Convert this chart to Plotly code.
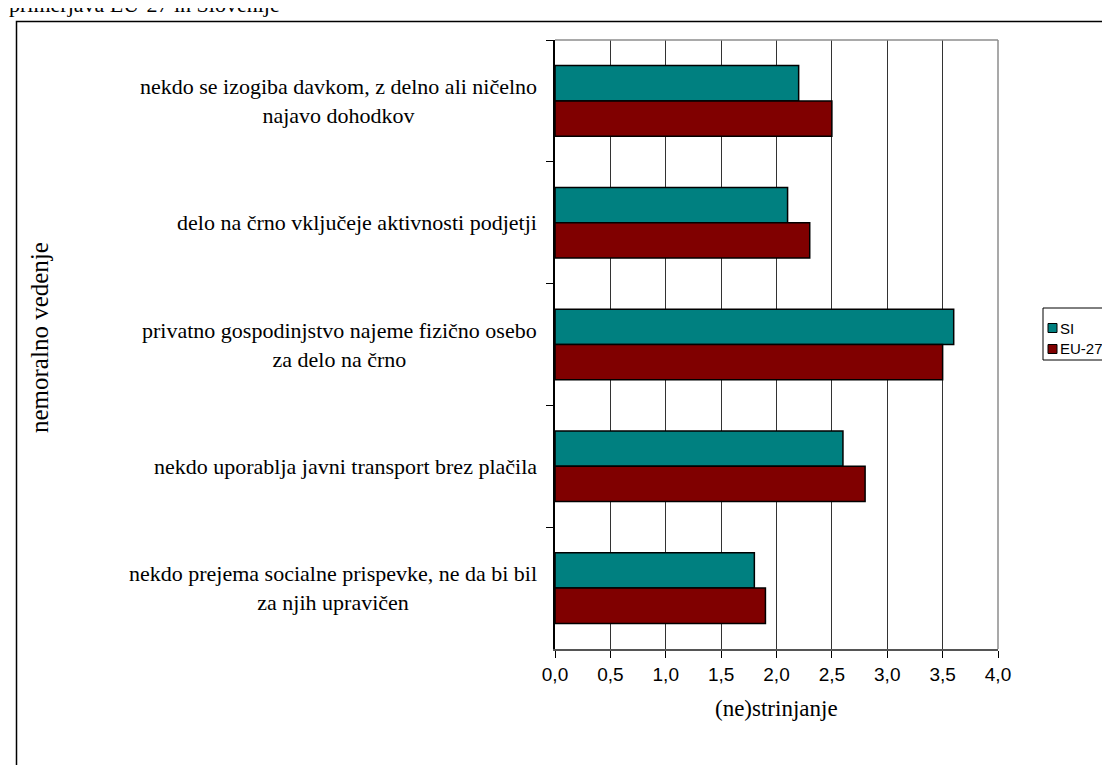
import plotly.graph_objects as go

categories = [
    "nekdo se izogiba davkom, z delno ali ničelno<br>najavo dohodkov",
    "delo na črno vključeje aktivnosti podjetji",
    "privatno gospodinjstvo najeme fizično osebo<br>za delo na črno",
    "nekdo uporablja javni transport brez plačila",
    "nekdo prejema socialne prispevke, ne da bi bil<br>za njih upravičen",
]
si_values = [2.2, 2.1, 3.6, 2.6, 1.8]
eu_values = [2.5, 2.3, 3.5, 2.8, 1.9]
series_names = ["SI", "EU-27"]
series_colors = ["#008080", "#800000"]
title_text = "primerjava EU-27 in Slovenije"
x_title = "(ne)strinjanje"
y_title = "nemoralno vedenje"

W, H = 1110, 765
L, R, T, B = 547, 120, 32, 124
PW, PH = W - L - R, H - T - B


def px_x(p):
    return (p - L) / PW


def px_y(p):
    return (H - B - p) / PH


SERIF = "Liberation Serif, Times New Roman, serif"
SANS = "Liberation Sans, Arial, sans-serif"

fig = go.Figure()
for name, vals, col in zip(series_names, [si_values, eu_values], series_colors):
    fig.add_trace(go.Bar(
        y=categories, x=vals, name=name, orientation="h",
        marker=dict(color=col, line=dict(color="black", width=1.5)),
        showlegend=False,
    ))

annotations = []
for c in categories:
    annotations.append(dict(
        x=px_x(531), xref="paper", y=c, yref="y", text=c, showarrow=False,
        xanchor="right", yanchor="middle", align="center",
        font=dict(family=SERIF, size=22, color="black"),
    ))
annotations.append(dict(
    x=px_x(31), xref="paper", y=px_y(330), yref="paper", text=y_title,
    textangle=-90, showarrow=False, xanchor="center", yanchor="middle",
    font=dict(family=SERIF, size=25, color="black"),
))
annotations.append(dict(
    x=px_x(768), xref="paper", y=px_y(700), yref="paper", text=x_title,
    showarrow=False, xanchor="center", yanchor="middle",
    font=dict(family=SERIF, size=23, color="black"),
))
annotations.append(dict(
    x=px_x(-1), xref="paper", y=px_y(-3), yref="paper", text=title_text,
    showarrow=False, xanchor="left", yanchor="middle",
    font=dict(family=SERIF, size=22, color="black"),
))

shapes = [
    # outer frame
    dict(type="rect", xref="paper", yref="paper",
         x0=px_x(8.5), x1=px_x(1200), y0=px_y(900), y1=px_y(13.5),
         line=dict(color="black", width=1.5), fillcolor="rgba(0,0,0,0)", layer="below"),
    # top and right plot border
    dict(type="line", xref="paper", yref="paper", x0=0, x1=1, y0=1, y1=1,
         line=dict(color="#8c8c8c", width=1.5)),
    dict(type="line", xref="paper", yref="paper", x0=1, x1=1, y0=0, y1=1,
         line=dict(color="#8c8c8c", width=1.5)),
    # legend box
    dict(type="rect", xref="paper", yref="paper",
         x0=px_x(1035), x1=px_x(1200), y0=px_y(352), y1=px_y(300),
         line=dict(color="black", width=1), fillcolor="white"),
]

# legend entries (symbol squares + labels)
leg_rows = [320, 341]
for name, col, yy in zip(series_names, series_colors, leg_rows):
    shapes.append(dict(
        type="rect", xref="paper", yref="paper",
        x0=px_x(1040), x1=px_x(1049), y0=px_y(yy + 4.5), y1=px_y(yy - 4.5),
        line=dict(color="black", width=1), fillcolor=col,
    ))
    annotations.append(dict(
        x=px_x(1050), xref="paper", y=px_y(yy), yref="paper", text=name,
        showarrow=False, xanchor="left", yanchor="middle",
        font=dict(family=SANS, size=15, color="black"),
    ))

fig.update_layout(
    width=W, height=H,
    margin=dict(l=L, r=R, t=T, b=B, autoexpand=False),
    paper_bgcolor="white", plot_bgcolor="white",
    barmode="group", bargap=0.42, bargroupgap=0,
    separators=", ",
    showlegend=False,
    annotations=annotations,
    shapes=shapes,
)
fig.update_xaxes(
    range=[0, 4], dtick=0.5, tick0=0, tickformat=".1f",
    showgrid=True, gridcolor="#333333", gridwidth=1,
    showline=True, linecolor="#555555", linewidth=1.5,
    ticks="outside", ticklen=7, tickcolor="black", tickwidth=1,
    tickfont=dict(family=SANS, size=19, color="black"),
    zeroline=False, fixedrange=True,
)
fig.update_yaxes(
    type="category", categoryorder="array", categoryarray=categories,
    autorange="reversed", showticklabels=False,
    ticks="outside", tickson="boundaries", ticklen=7, tickcolor="black", tickwidth=1,
    showline=True, linecolor="black", linewidth=1.5,
    showgrid=False, zeroline=False, fixedrange=True,
)

fig.write_html("out.html")
